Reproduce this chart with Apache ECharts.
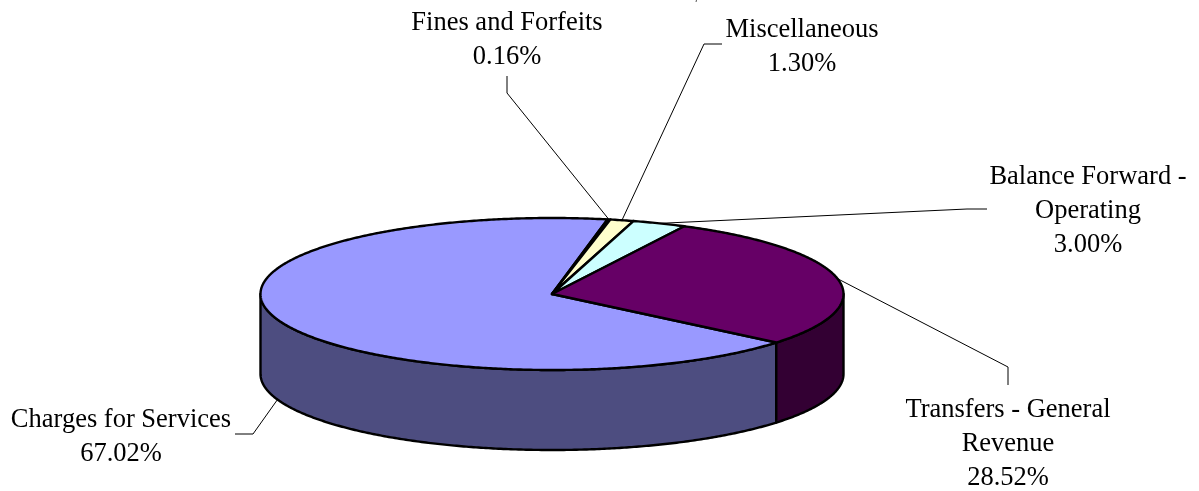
<!DOCTYPE html>
<html>
<head>
<meta charset="utf-8">
<style>html,body{margin:0;padding:0;background:#fff}#chart{width:1199px;height:491px}</style>
<script src="https://cdn.jsdelivr.net/npm/echarts@6/dist/echarts.min.js"></script>
</head>
<body>
<div id="chart"></div>
<script>
const categories = ['Charges for Services', 'Fines and Forfeits', 'Miscellaneous', 'Balance Forward -\nOperating', 'Transfers - General\nRevenue'];
const shares = [67.02, 0.16, 1.30, 3.00, 28.52];
const topColors = ['#9999FF', '#993366', '#FFFFCC', '#CCFFFF', '#660066'];
const wallColors = ['#4D4D80', '#4D1A33', '#808066', '#668080', '#330033'];

// Pie geometry and label placement
const pie = { cx: 552, cy: 294, rx: 291.5, ry: 76, depth: 80, startDeg: 129.7 };
const labelPos = [[121, 420], [507, 23], [802, 30], [1088, 177], [1008, 410]];
const leaderBends = [
  [[253, 434], [235, 434]],
  [[507, 93], [507, 76]],
  [[704, 44], [722, 44]],
  [[967, 209], [987, 209]],
  [[1008, 367], [1008, 385]]
];
const total = shares.reduce((a, b) => a + b, 0);
const FONT = '26.5px "Liberation Serif"';

function pt(deg, dy) {
  const r = deg * Math.PI / 180;
  return [pie.cx + pie.rx * Math.sin(r), pie.cy - pie.ry * Math.cos(r) + (dy || 0)];
}
function arc(a, b, dy) {
  const n = Math.max(2, Math.ceil(Math.abs(b - a) * 2));
  const out = [];
  for (let i = 0; i <= n; i++) out.push(pt(a + (b - a) * i / n, dy));
  return out;
}
function startOf(i) {
  let s = 0;
  for (let k = 0; k < i; k++) s += shares[k];
  return pie.startDeg + s / total * 360;
}

function renderItem(params, api) {
  const i = params.dataIndex;
  const value = api.value(0);
  const a = startOf(i), b = a + value / total * 360;
  const children = [];
  [[90, 270], [450, 630]].forEach(([lo, hi]) => {
    const wa = Math.max(a, lo), wb = Math.min(b, hi);
    if (wb > wa) {
      children.push({
        type: 'polygon',
        shape: { points: arc(wa, wb, 0).concat(arc(wb, wa, pie.depth)) },
        style: { fill: wallColors[i], stroke: '#000', lineWidth: 2.4, lineJoin: 'round' }
      });
    }
  });
  children.push({
    type: 'polygon',
    shape: { points: [[pie.cx, pie.cy]].concat(arc(a, b, 0)) },
    style: { fill: topColors[i], stroke: '#000', lineWidth: 2.4, lineJoin: 'round' }
  });
  const mid = (a + b) / 2;
  const m = ((mid % 360) + 360) % 360;
  const start = pt(mid, m > 90 && m < 270 ? pie.depth : 0);
  children.push({
    type: 'polyline',
    shape: { points: [start].concat(leaderBends[i]) },
    style: { fill: null, stroke: '#000', lineWidth: 1 }
  });
  children.push({
    type: 'text',
    style: {
      text: categories[i] + '\n' + value.toFixed(2) + '%',
      x: labelPos[i][0], y: labelPos[i][1] - 17,
      align: 'center', verticalAlign: 'top',
      font: FONT, lineHeight: 34, fill: '#000'
    }
  });
  return { type: 'group', children };
}

const chart = echarts.init(document.getElementById('chart'), null, { renderer: 'canvas' });
chart.setOption({
  animation: false,
  backgroundColor: '#fff',
  series: [{
    type: 'custom',
    coordinateSystem: 'none',
    silent: true,
    renderItem,
    data: shares.map((v, i) => ({ name: categories[i], value: [v] }))
  }],
  graphic: [{
    type: 'line', silent: true,
    shape: { x1: 697, y1: -2, x2: 696, y2: 2 },
    style: { stroke: '#555', lineWidth: 1 }
  }]
});
</script>
</body>
</html>
